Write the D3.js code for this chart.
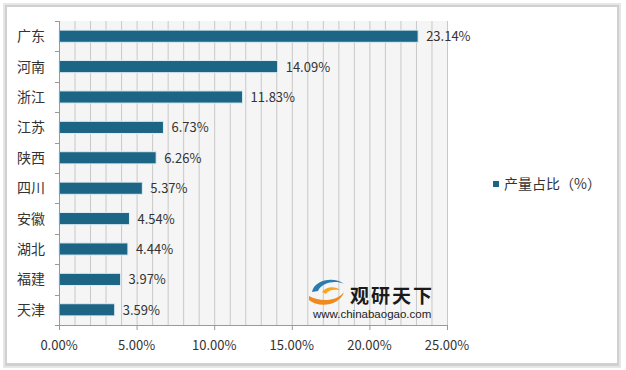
<!DOCTYPE html>
<html>
<head>
    <meta charset="utf-8" />
    <title>产量占比</title>
    <style>
        body {
            margin: 0;
            background: #fff;
            font-family: "Noto Sans CJK SC", "Noto Sans", sans-serif;
        }

        .cat-label {
            text-anchor: end;
            font-size: 14px;
            fill: #333;
        }

        .val-label {
            font-size: 13px;
            fill: #333;
        }

        .axis-label {
            text-anchor: middle;
            font-size: 13px;
            fill: #333;
        }
    </style>
</head>
<body>
    <script src="https://d3js.org/d3.v7.min.js"></script>
    <script>
        // 数据
        let provinces = ['广东', '河南', '浙江', '江苏', '陕西', '四川', '安徽', '湖北', '福建', '天津']
        let shares = [23.14, 14.09, 11.83, 6.73, 6.26, 5.37, 4.54, 4.44, 3.97, 3.59]
        let xTicks = [0, 5, 10, 15, 20, 25]
        let seriesName = '产量占比（%）'

        let popData = provinces.map(function (p, i) {
            return { name: p, value: shares[i] }
        })

        let width = 626,
            height = 370

        let plotLeft = 59,
            plotRight = 447,
            plotTop = 21,
            plotBottom = 325

        let x = d3.scaleLinear()
                    .domain([0, 25])
                    .range([plotLeft, plotRight])

        let y = d3.scaleBand()
                    .domain(provinces)
                    .range([plotTop, plotBottom])
                    .paddingInner(0.6)
                    .paddingOuter(0.3)

        let yOuter = d3.scaleBand()
                    .domain(provinces)
                    .range([plotTop, plotBottom])

        let svg = d3.select('body')
                    .append('svg')
                    .attr('width', width)
                    .attr('height', height)

        // 外框 + 阴影
        svg.append('rect')
            .attr('x', 3).attr('y', 3)
            .attr('width', 618).attr('height', 365)
            .attr('fill', '#e6e6e6')
        svg.append('rect')
            .attr('x', 5).attr('y', 5)
            .attr('width', 614).attr('height', 361)
            .attr('fill', '#d0d0d0')
        svg.append('rect')
            .attr('x', 7).attr('y', 7)
            .attr('width', 610).attr('height', 356)
            .attr('fill', '#ffffff')

        // 绘图区背景
        svg.append('rect')
            .attr('x', plotLeft)
            .attr('y', plotTop)
            .attr('width', plotRight - plotLeft)
            .attr('height', plotBottom - plotTop)
            .attr('fill', '#f5f5f5')

        // 网格线 (每 1%)
        svg.append('g')
            .selectAll('line')
            .data(d3.range(1, 26))
            .enter()
                .append('line')
                .attr('x1', function (d) { return x(d) + 0.5 })
                .attr('x2', function (d) { return x(d) + 0.5 })
                .attr('y1', plotTop)
                .attr('y2', plotBottom)
                .attr('stroke', '#c8c8c8')
                .attr('stroke-width', 1)

        // 水印
        let wm = svg.append('g')
        wm.append('path')
            .attr('d', 'M312,292 C314,280 334,276 344,284 C336,280 322,282 318,291 Z')
            .attr('fill', '#2b7bb0')
        wm.append('path')
            .attr('d', 'M309,296 C320,302 336,302 344,292 C340,306 318,308 309,300 Z')
            .attr('fill', '#f08a1c')
        wm.append('path')
            .attr('d', 'M322,292 C326,286 336,286 340,290 C334,289 328,290 326,294 Z')
            .attr('fill', '#f5a623')
        wm.append('text')
            .attr('x', 350)
            .attr('y', 303)
            .attr('font-size', 19)
            .attr('font-weight', 'bold')
            .attr('fill', '#1a1a1a')
            .attr('letter-spacing', 2)
            .text('观研天下')
        wm.append('text')
            .attr('x', 313)
            .attr('y', 318)
            .attr('font-size', 11.5)
            .attr('font-family', 'Liberation Sans, Arial, sans-serif')
            .attr('fill', '#222')
            .text('www.chinabaogao.com')

        // 柱
        svg.append('g')
            .selectAll('rect')
            .data(popData)
            .enter()
                .append('rect')
                .attr('x', x(0))
                .attr('y', function (d) { return y(d.name) })
                .attr('width', function (d) { return x(d.value) - x(0) })
                .attr('height', y.bandwidth())
                .attr('fill', '#1c6585')
                .attr('stroke', '#dfeef4')
                .attr('stroke-width', 1)

        // 数值标签
        svg.append('g')
            .selectAll('text')
            .data(popData)
            .enter()
                .append('text')
                .classed('val-label', true)
                .attr('x', function (d) { return x(d.value) + 8 })
                .attr('y', function (d) { return y(d.name) + y.bandwidth() / 2 + 5 })
                .text(function (d) { return d.value.toFixed(2) + '%' })

        // y 轴
        let axisColor = '#9a9a9a'
        svg.append('line')
            .attr('x1', plotLeft + 0.5).attr('x2', plotLeft + 0.5)
            .attr('y1', plotTop).attr('y2', plotBottom)
            .attr('stroke', axisColor)
        svg.append('g')
            .selectAll('line')
            .data(provinces.concat(['end']))
            .enter()
                .append('line')
                .attr('x1', plotLeft - 4)
                .attr('x2', plotLeft)
                .attr('y1', function (d, i) { return Math.round(plotTop + i * yOuter.step()) + 0.5 })
                .attr('y2', function (d, i) { return Math.round(plotTop + i * yOuter.step()) + 0.5 })
                .attr('stroke', axisColor)

        svg.append('g')
            .selectAll('text')
            .data(provinces)
            .enter()
                .append('text')
                .classed('cat-label', true)
                .attr('x', plotLeft - 14)
                .attr('y', function (d) { return yOuter(d) + yOuter.bandwidth() / 2 + 5 })
                .text(function (d) { return d })

        // x 轴
        svg.append('line')
            .attr('x1', plotLeft).attr('x2', plotRight + 1)
            .attr('y1', plotBottom + 0.5).attr('y2', plotBottom + 0.5)
            .attr('stroke', axisColor)
        svg.append('g')
            .selectAll('line')
            .data(xTicks)
            .enter()
                .append('line')
                .attr('x1', function (d) { return x(d) + 0.5 })
                .attr('x2', function (d) { return x(d) + 0.5 })
                .attr('y1', plotBottom)
                .attr('y2', plotBottom + 5)
                .attr('stroke', axisColor)
        svg.append('g')
            .selectAll('text')
            .data(xTicks)
            .enter()
                .append('text')
                .classed('axis-label', true)
                .attr('x', function (d) { return x(d) })
                .attr('y', plotBottom + 25)
                .text(function (d) { return d.toFixed(2) + '%' })

        // 图例
        svg.append('rect')
            .attr('x', 493).attr('y', 181)
            .attr('width', 6).attr('height', 6)
            .attr('fill', '#1c6585')
        svg.append('text')
            .attr('x', 504)
            .attr('y', 189)
            .attr('font-size', 14)
            .attr('fill', '#333')
            .text(seriesName)
    </script>
</body>
</html>
